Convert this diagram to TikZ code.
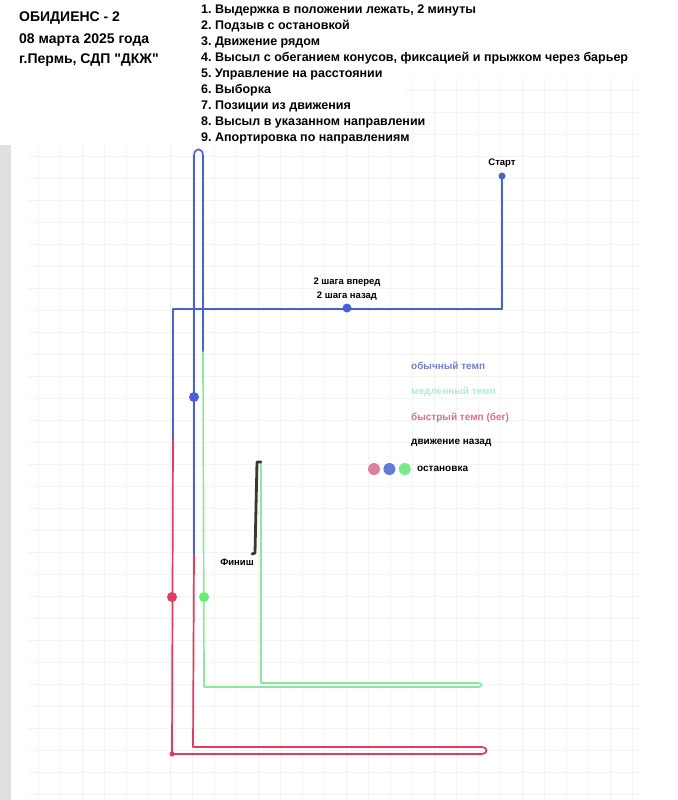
\documentclass[tikz,border=0pt]{standalone}
\usepackage{fontspec}
\setmainfont{Liberation Sans}[Ligatures=TeXOff]
\usetikzlibrary{positioning}
\definecolor{wayblue}{RGB}{72,98,214}
\definecolor{wayred}{RGB}{226,58,98}
\definecolor{waygreen}{RGB}{140,232,160}
\definecolor{wayblack}{RGB}{55,55,55}
\definecolor{legblue}{RGB}{112,128,204}
\definecolor{leggreen}{RGB}{178,236,204}
\definecolor{legred}{RGB}{214,112,146}
\definecolor{papergrid}{RGB}{244,244,238}
\frenchspacing

\begin{document}
\begin{tikzpicture}[x=1pt,y=-1pt,
		way/.style={line width=1.7pt,line join=round,line cap=round},
		stopdot/.style={circle,inner sep=0pt,minimum size=#1},
		stopdot/.default=9pt,
		head/.style={font=\bfseries\fontsize{14}{16}\selectfont,inner sep=0pt,anchor=west},
		item/.style={font=\bfseries\fontsize{12.5}{14}\selectfont,inner sep=0pt,anchor=west},
		lbl/.style={font=\bfseries\fontsize{9.5}{14}\selectfont,inner sep=0pt},
		legend/.style={font=\bfseries\fontsize{10}{11}\selectfont,inner sep=0pt,anchor=west},
		]
	\useasboundingbox (0,0) rectangle (677,800);
	\foreach \gx in {38,60,...,632}
		\draw[papergrid,line width=0.5pt] (\gx,78) -- (\gx,800);
	\foreach \gy in {90,112,...,794}
		\draw[papergrid,line width=0.5pt] (28,\gy) -- (640,\gy);
	\fill[white] (0,0) rectangle (405,145);
	\fill[white] (0,0) rectangle (677,76);
	\fill[black!12] (0,145) rectangle (11,800);

	\node[head] (title) at (19,18) {ОБИДИЕНС - 2};
	\node[head] (date) at (19,40) {08 марта 2025 года};
	\node[head] (place) at (19,60) {г.Пермь, СДП "ДКЖ"};
	\foreach \task [count=\i] in {{1. Выдержка в положении лежать, 2 минуты},
			{2. Подзыв с остановкой}, {3. Движение рядом},
			{4. Высыл с обеганием конусов, фиксацией и прыжком через барьер},
			{5. Управление на расстоянии}, {6. Выборка}, {7. Позиции из движения},
			{8. Высыл в указанном направлении}, {9. Апортировка по направлениям}}
		\node[item] (task\i) at (201,{10+16.1*(\i-1)}) {\task};

	\coordinate (start) at (502,176);
	\coordinate (bend) at (502,309);
	\coordinate (corner) at (173,309);
	\coordinate (runtop) at (173,440);
	\coordinate (runend) at (172,754);
	\coordinate (backtop) at (194,555);
	\coordinate (slowtop) at (203,352);
	\coordinate (finishtop) at (261,462);
	\coordinate (finishend) at (255,553);

	\draw[way,wayblue] (start) -- (bend) -- (corner) -- (runtop);
	\draw[way,wayblue] (backtop) -- (194,156) .. controls (194,147) and (203,147) .. (203,156) -- (slowtop);
	\draw[way,waygreen] (slowtop) -- (204,687) -- (478,687) .. controls (483,687) and (483,683) .. (478,683) -- (261,683) -- (finishtop);
	\draw[way,wayred] (backtop) -- (193,747) -- (482,747) .. controls (488,747) and (488,754) .. (482,754) -- (runend) -- (runtop);
	\draw[way,wayblack,line width=2.8pt] (finishtop) -- (257,462) -- (finishend) -- (252,554);

	\node[stopdot=7pt,fill=wayblue] (startdot) at (start) {};
	\node[lbl,above=5pt of startdot] (startlbl) {Старт};
	\node[stopdot,fill=wayblue] (steps) at (347,308) {};
	\node[lbl,align=center,above=3pt of steps] (stepslbl) {2 шага вперед\\2 шага назад};
	\node[stopdot=10pt,fill=wayblue] (stopblue) at (194,397) {};
	\node[stopdot=10pt,fill=wayred] (stopred) at (172,597) {};
	\node[stopdot=10pt,fill=waygreen!70!green] (stopgreen) at (204,597) {};
	\node[stopdot=5pt,fill=wayred] (runcorner) at (runend) {};
	\node[lbl] (finish) at (237,562) {Финиш};

	\node[legend,text=legblue] (normal) at (411,366) {обычный темп};
	\node[legend,text=leggreen,below=26pt of normal.west,anchor=west] (slow) {медленный темп};
	\node[legend,text=legred,below=26pt of slow.west,anchor=west] (fast) {быстрый темп (бег)};
	\node[legend,below=25pt of fast.west,anchor=west] (back) {движение назад};
	\node[legend,below=26pt of back.west,anchor=west,xshift=6pt] (halt) {остановка};
	\node[stopdot=12pt,fill=waygreen!85!green,left=6pt of halt] (keygreen) {};
	\node[stopdot=12pt,fill=wayblue!85,left=3pt of keygreen] (keyblue) {};
	\node[stopdot=12pt,fill=legred!80!pink,left=3pt of keyblue] (keyred) {};
\end{tikzpicture}
\end{document}
